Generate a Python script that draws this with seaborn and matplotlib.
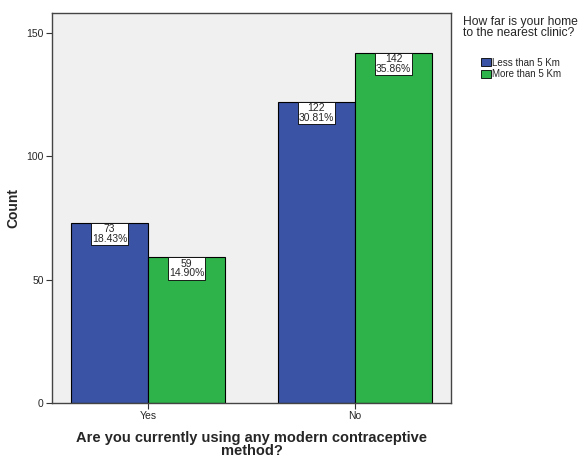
import matplotlib
matplotlib.use("Agg")
import matplotlib.pyplot as plt
import seaborn as sns
import pandas as pd
from matplotlib.patches import Patch

categories = ["Yes", "No"]
hue_levels = ["Less than 5 Km", "More than 5 Km"]
less_than_5 = [73, 122]
more_than_5 = [59, 142]
pct_labels_less = ["18.43%", "30.81%"]
pct_labels_more = ["14.90%", "35.86%"]
colors = ["#3a53a4", "#2db34a"]

rows = []
for c, v in zip(categories, less_than_5):
    rows.append({"method": c, "distance": hue_levels[0], "count": v})
for c, v in zip(categories, more_than_5):
    rows.append({"method": c, "distance": hue_levels[1], "count": v})
df = pd.DataFrame(rows)

sns.set_style("ticks")
plt.rcParams["font.family"] = ["Liberation Sans", "DejaVu Sans"]

fig = plt.figure(figsize=(5.83, 4.62), dpi=100)
ax = fig.add_axes([52/583, 59/462, 399/583, 390/462])
ax.set_facecolor("#f0f0f0")

sns.barplot(data=df, x="method", y="count", hue="distance", order=categories,
            hue_order=hue_levels, palette=colors, width=0.744, edgecolor="black",
            linewidth=0.8, saturation=1, ax=ax, legend=False, errorbar=None)

ax.set_xlim(-0.464, 1.464)
ax.set_ylim(0, 158.1)
ax.set_yticks([0, 50, 100, 150])
ax.tick_params(axis="both", labelsize=7.5, length=4, width=0.8, color="#333333", pad=2)
for s in ax.spines.values():
    s.set_color("#444444")
    s.set_linewidth(1.0)

labels_all = [
    [f"{v}\n{p}" for v, p in zip(less_than_5, pct_labels_less)],
    [f"{v}\n{p}" for v, p in zip(more_than_5, pct_labels_more)],
]
for cont, labs in zip(ax.containers, labels_all):
    ax.bar_label(cont, labels=labs, label_type="edge", padding=-15, fontsize=7.5,
                 linespacing=0.95,
                 bbox=dict(boxstyle="square,pad=0.12", facecolor="white",
                           edgecolor="black", linewidth=0.6))

ax.set_xlabel("Are you currently using any modern contraceptive\nmethod?",
              fontsize=10.5, fontweight="bold", labelpad=7, linespacing=0.9)
ax.set_ylabel("Count", fontsize=10, fontweight="bold", labelpad=4)

fig.text(463/583, 1 - 16/462, "How far is your home\nto the nearest clinic?",
         ha="left", va="top", fontsize=8.7, linespacing=0.88)

handles = [Patch(facecolor=colors[i], edgecolor="black", linewidth=0.6, label=hue_levels[i])
           for i in range(2)]
leg = fig.legend(handles=handles, loc="upper left",
                 bbox_to_anchor=(474/583, 1 - 51/462), frameon=False,
                 fontsize=7, handlelength=1.05, handleheight=0.9,
                 handletextpad=0.15, labelspacing=0.15, borderpad=0.2)

fig.savefig("out.png", dpi=100)
